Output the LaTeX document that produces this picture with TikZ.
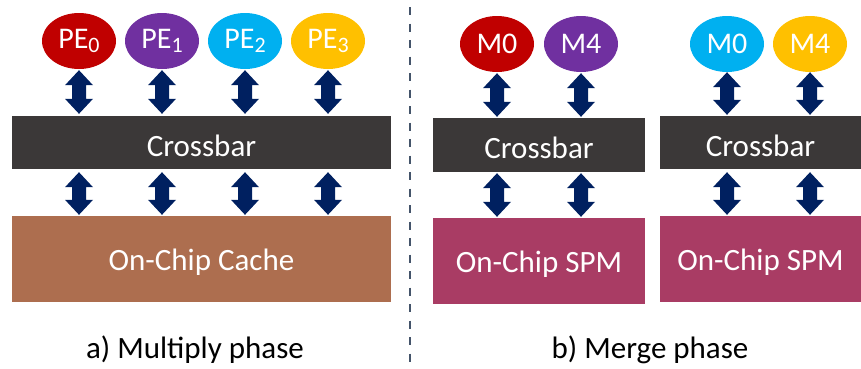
\documentclass[tikz,border=0pt]{standalone}
\usepackage{fontspec}
\setmainfont{Carlito}
\usetikzlibrary{shapes.geometric,calc}

\definecolor{pered}{HTML}{C00000}
\definecolor{pepurple}{HTML}{7030A0}
\definecolor{pecyan}{HTML}{00B0F0}
\definecolor{peyellow}{HTML}{FFC000}
\definecolor{xbargray}{HTML}{3B3838}
\definecolor{cachebrown}{HTML}{AD6E4F}
\definecolor{spmrose}{HTML}{A93C64}
\definecolor{arrownavy}{HTML}{002060}
\definecolor{divgray}{HTML}{44546A}

\newcommand{\lowsub}[1]{\raisebox{-4pt}{\fontsize{22}{22}\selectfont #1}}
% lower a label a little while keeping its box size
\newcommand{\lowtext}[1]{\raisebox{-3pt}[\height][\depth]{#1}}

% Vertical double-headed block arrow from #1 (top) down to #2 (bottom)
\newcommand{\blockarrow}[2]{%
  \fill[arrownavy] let \p1=#1, \p2=#2 in
    (\x1,\y1) -- (\x1+14pt,\y1-15pt) -- (\x1+7pt,\y1-15pt) --
    (\x1+7pt,\y2+15pt) -- (\x1+14pt,\y2+15pt) -- (\x1,\y2) --
    (\x1-14pt,\y2+15pt) -- (\x1-7pt,\y2+15pt) -- (\x1-7pt,\y1-15pt) --
    (\x1-14pt,\y1-15pt) -- cycle;%
}

\tikzset{
  unit/.style={ellipse, inner sep=0pt, minimum width=74pt, minimum height=56pt,
    text=white, font=\fontsize{30}{30}\selectfont},
  xbar/.style={rectangle, fill=xbargray, inner sep=0pt, text=white,
    font=\fontsize{31}{31}\selectfont},
  membox/.style={rectangle, inner sep=0pt, text=white,
    font=\fontsize{31}{31}\selectfont},
  caption/.style={font=\fontsize{31}{31}\selectfont, text=black},
}

\begin{document}
\begin{tikzpicture}[x=1pt, y=-1pt]
  \useasboundingbox (0,0) rectangle (861,368);

  % ---- a) Multiply phase ----
  \node[unit, fill=pered]    (pe0) at (79,41)  {PE\lowsub{0}};
  \node[unit, fill=pepurple] (pe1) at (162,41) {PE\lowsub{1}};
  \node[unit, fill=pecyan]   (pe2) at (245,41) {PE\lowsub{2}};
  \node[unit, fill=peyellow] (pe3) at (328,41) {PE\lowsub{3}};

  \node[xbar, minimum width=379pt, minimum height=53pt] (xa) at (201.5,142.5) {\lowtext{Crossbar}};
  \node[membox, fill=cachebrown, minimum width=379pt, minimum height=86pt] (cache) at (201.5,259) {\lowtext{On-Chip Cache}};

  \foreach \u in {pe0,pe1,pe2,pe3} {
    \blockarrow{($(\u.south)+(0,1)$)}{($(\u.south |- xa.north)+(0,-2)$)}
    \blockarrow{($(xa.south -| \u)+(0,3)$)}{($(cache.north -| \u)+(0,-1)$)}
  }

  \node[caption] (capa) at (195,350) {a) Multiply phase};

  % ---- divider ----
  \coordinate (dtop) at (410,7);
  \coordinate (dbot) at (410,368);
  \draw[divgray, line width=2.5pt, dash pattern=on 8pt off 8.5pt] (dtop) -- (dbot);

  % ---- b) Merge phase ----
  \node[unit, fill=pered]    (ma0) at (497,44) {M0};
  \node[unit, fill=pepurple] (ma4) at (581,44) {M4};
  \node[unit, fill=pecyan]   (mb0) at (727,44) {M0};
  \node[unit, fill=peyellow] (mb4) at (810,44) {M4};

  \node[xbar, minimum width=212pt, minimum height=54pt] (xb) at (539,145) {\lowtext{Crossbar}};
  \node[membox, fill=spmrose, minimum width=212pt, minimum height=86pt] (spma) at (539,261) {\lowtext{On-Chip SPM}};

  \node[xbar, minimum width=201pt, minimum height=53pt] (xc) at (760.5,142.5) {\lowtext{Crossbar}};
  \node[membox, fill=spmrose, minimum width=201pt, minimum height=86pt] (spmb) at (760.5,259) {\lowtext{On-Chip SPM}};

  \foreach \u in {ma0,ma4} {
    \blockarrow{($(\u.south)+(0,1)$)}{($(\u.south |- xb.north)+(0,-1)$)}
    \blockarrow{($(xb.south -| \u)+(0,1)$)}{($(spma.north -| \u)+(0,-1)$)}
  }
  \foreach \u in {mb0,mb4} {
    \blockarrow{($(\u.south)+(0,0)$)}{($(\u.south |- xc.north)+(0,-1)$)}
    \blockarrow{($(xc.south -| \u)+(0,3)$)}{($(spmb.north -| \u)+(0,-1)$)}
  }

  \node[caption] (capb) at (650,350) {b) Merge phase};
\end{tikzpicture}
\end{document}
